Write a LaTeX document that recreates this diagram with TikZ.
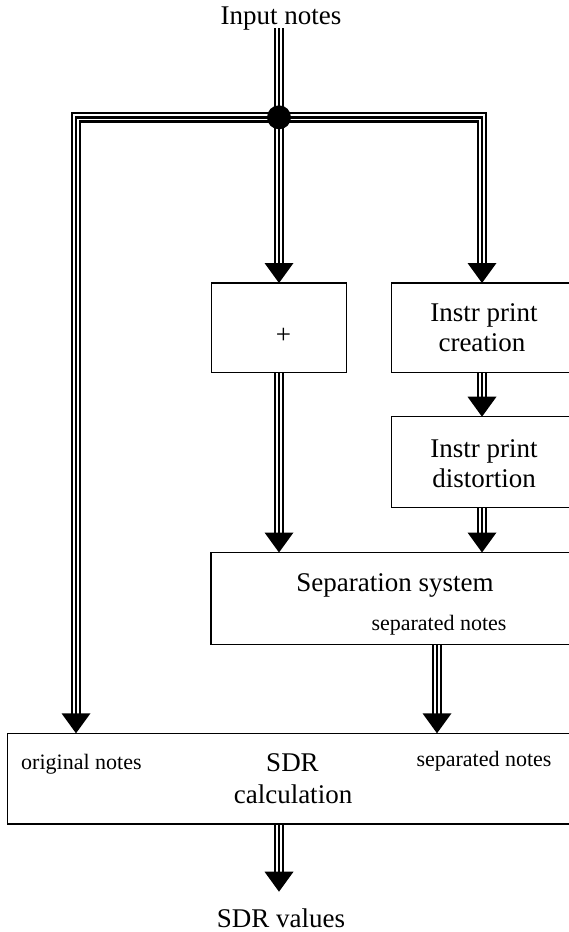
\documentclass[tikz,border=0pt]{standalone}
\usepackage{fontspec}
\setmainfont{Liberation Serif}
\usetikzlibrary{backgrounds}
\newcommand\downtip[1]{\fill (#1) -- ++(-14.5,-20) -- ++(29,0) -- cycle;}
\begin{document}
\begin{tikzpicture}[x=1pt,y=-1pt,
  triple/.style={line width=2.4pt, preaction={draw,line width=10.5pt}, preaction={draw,white,line width=6.2pt}},
  tarrow/.style={triple, shorten >=19pt},
  box/.style={draw, line width=1.2pt, inner sep=0pt, outer sep=0pt},
  big/.style={font=\fontsize{27}{31}\selectfont, inner sep=0pt, anchor=base},
  small/.style={font=\fontsize{22}{26}\selectfont, inner sep=0pt, anchor=base}]
\useasboundingbox (0,0) rectangle (569,932);
\clip (0,0) rectangle (569,932);

% boxes
\node[box, minimum width=135.5pt, minimum height=89.7pt] (plus) at (279,327.85) {};
\node[box, minimum width=188.3pt, minimum height=89.7pt] (cre) at (485.85,327.85) {};
\node[box, minimum width=188.3pt, minimum height=90.8pt] (dis) at (485.85,462.1) {};
\node[box, minimum width=374pt, minimum height=92pt] (sep) at (398,598.5) {};
\node[box, minimum width=577.5pt, minimum height=90.7pt] (sdr) at (296.25,778.65) {};

% texts
\node[big] (tin) at (281,24) {Input notes};
\node[big, anchor=center] (tplus) at (283.5,336) {+};
\node[big] (tcre1) at (484,321.7) {Instr print};
\node[big] (tcre2) at (482,351.7) {creation};
\node[big] (tdis1) at (484,457.5) {Instr print};
\node[big] (tdis2) at (484,487) {distortion};
\node[big] (tsep) at (395,591.7) {Separation system};
\node[small] (tsepn) at (439,630.7) {separated notes};
\node[big] (tsdr1) at (292.5,771.7) {SDR};
\node[big] (tsdr2) at (293,803.3) {calculation};
\node[small, anchor=base west] (torig) at (21,769) {original notes};
\node[small] (tsepn2) at (484,766.7) {separated notes};
\node[big] (tout) at (281,927) {SDR values};

% junction
\node[circle, fill, inner sep=0pt, minimum size=24pt] (j) at (279,117.3) {};

% coordinates
\coordinate (xl) at (76,0);
\coordinate (xm) at (279,0);
\coordinate (xr) at (482,0);
\coordinate (xs) at (437,0);
\coordinate (intop) at (279,28);
\coordinate (cl) at (76,117.3);
\coordinate (cr) at (482,117.3);
\coordinate (outend) at (279,891.7);

\begin{pgfonlayer}{background}
\draw[triple] (intop) -- (j.center);
\draw[triple, shorten <=19pt, shorten >=19pt] (xl |- sdr.north) -- (cl) -- (cr) -- (xr |- cre.north);
\draw[tarrow] (j.center) -- (xm |- plus.north);
\draw[tarrow] (xm |- plus.south) -- (xm |- sep.north);
\draw[tarrow] (xr |- cre.south) -- (xr |- dis.north);
\draw[tarrow] (xr |- dis.south) -- (xr |- sep.north);
\draw[tarrow] (xs |- sep.south) -- (xs |- sdr.north);
\draw[tarrow] (xm |- sdr.south) -- (outend);
\end{pgfonlayer}

\downtip{xl |- sdr.north}
\downtip{xr |- cre.north}
\downtip{xm |- plus.north}
\downtip{xm |- sep.north}
\downtip{xr |- dis.north}
\downtip{xr |- sep.north}
\downtip{xs |- sdr.north}
\downtip{outend}
\end{tikzpicture}
\end{document}
